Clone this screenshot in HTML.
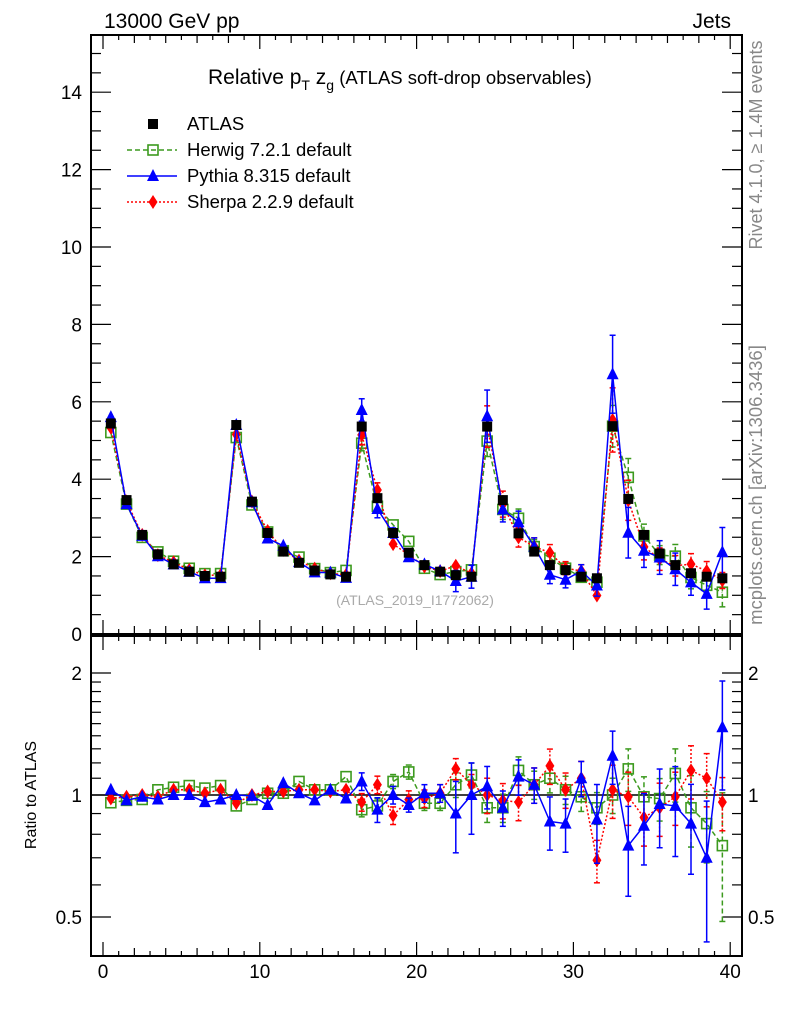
<!DOCTYPE html>
<html><head><meta charset="utf-8">
<style>
html,body{margin:0;padding:0;background:#fff;}
svg{display:block;font-family:"Liberation Sans",sans-serif;}
</style></head>
<body>
<svg id="chart" width="786" height="1024" viewBox="0 0 786 1024" xmlns="http://www.w3.org/2000/svg">
<text x="104" y="28" font-size="21">13000 GeV pp</text>
<text x="731" y="28" font-size="21" text-anchor="end">Jets</text>
<text x="208" y="84" font-size="21">Relative p<tspan font-size="14" dy="6">T</tspan><tspan dy="-6"> z</tspan><tspan font-size="14" dy="6">g</tspan><tspan font-size="18.5" dy="-6"> (ATLAS soft-drop observables)</tspan></text>
<text transform="translate(762,145) rotate(-90)" font-size="18" fill="#888" text-anchor="middle">Rivet 4.1.0, ≥ 1.4M events</text>
<text transform="translate(762,485) rotate(-90)" font-size="18.5" fill="#888" text-anchor="middle">mcplots.cern.ch [arXiv:1306.3436]</text>
<text x="415" y="605" font-size="14" fill="#aaa" text-anchor="middle">(ATLAS_2019_I1772062)</text>
<text transform="translate(36,795) rotate(-90)" font-size="16" text-anchor="middle">Ratio to ATLAS</text>
<g id="legend"></g>
<g id="main"></g>
<g id="ratio"></g>
</svg>
<script>
const atlas = [5.44,3.46,2.56,2.06,1.80,1.61,1.50,1.48, 5.40,3.42,2.61,2.13,1.84,1.64,1.54,1.48, 5.36,3.51,2.61,2.10,1.78,1.61,1.52,1.48, 5.36,3.46,2.60,2.13,1.78,1.65,1.48,1.44, 5.37,3.49,2.56,2.08,1.78,1.57,1.48,1.44];
const herwigRatio = [0.957,0.97,0.975,1.03,1.045,1.055,1.04,1.055, 0.94,0.975,1.01,1.01,1.08,1.03,1.03,1.11, 0.92,0.94,1.08,1.14,0.954,0.954,1.06,1.12, 0.93,0.93,1.15,1.06,1.10,1.03,0.99,0.93, 1.0,1.16,0.99,0.98,1.13,0.93,0.85,0.75];
const pythiaRatio = [1.03,0.97,0.99,0.975,1.0,1.0,0.96,0.975, 1.0,0.995,0.945,1.07,1.01,0.97,1.03,0.98, 1.08,0.92,1.0,0.945,1.01,1.01,0.90,1.0, 1.05,0.93,1.11,1.06,0.86,0.85,1.10,0.87, 1.25,0.75,0.84,0.95,0.94,0.85,0.70,1.47];
const sherpaRatio = [0.98,0.99,1.0,0.99,1.03,1.03,1.01,1.03, 0.955,1.0,1.02,1.02,1.03,1.03,1.02,1.03, 0.96,1.06,0.89,0.975,0.98,1.01,1.16,1.06, 1.0,0.97,0.96,1.06,1.18,1.03,1.10,0.69, 1.03,0.99,0.88,0.93,0.99,1.15,1.10,0.96];
const herwigErr = [0.01,0.01,0.01,0.01,0.01,0.01,0.01,0.01, 0.01,0.01,0.01,0.01,0.01,0.01,0.01,0.01, 0.04,0.04,0.04,0.04,0.04,0.04,0.07,0.07, 0.08,0.08,0.08,0.08,0.08,0.08,0.08,0.09, 0.10,0.12,0.12,0.12,0.15,0.2,0.2,0.35];
const pythiaErr = [0.01,0.01,0.01,0.01,0.015,0.015,0.015,0.015, 0.015,0.015,0.015,0.02,0.02,0.02,0.02,0.02, 0.05,0.07,0.05,0.04,0.05,0.05,0.2,0.2, 0.12,0.1,0.1,0.1,0.15,0.15,0.1,0.22, 0.15,0.25,0.2,0.22,0.25,0.25,0.38,0.3];
const sherpaErr = [0.02,0.02,0.02,0.02,0.02,0.02,0.02,0.02, 0.02,0.02,0.02,0.02,0.02,0.02,0.02,0.02, 0.05,0.05,0.05,0.05,0.05,0.05,0.06,0.06, 0.1,0.1,0.1,0.1,0.1,0.1,0.1,0.12, 0.15,0.15,0.15,0.15,0.15,0.15,0.15,0.15];
const mainTicks = [0,2,4,6,8,10,12,14];
const ratioTicks = [0.5,1,2];
const xTicks = [0,10,20,30,40];

const NS = "http://www.w3.org/2000/svg";
const L = 91, R = 742, MT = 35, MB = 634, RT = 636, RB = 956;
const X = v => 103 + v * 15.68;
const Y = v => MB - v * 38.7;
const YR = r => 795 - 122 * Math.log2(r);
function mk(parent, tag, attrs) {
  const e = document.createElementNS(NS, tag);
  for (const k in attrs) e.setAttribute(k, attrs[k]);
  parent.appendChild(e); return e;
}
const main = document.getElementById('main');
const ratio = document.getElementById('ratio');
const legend = document.getElementById('legend');

function frame(g, top, bot, name) {
  const f = mk(g, 'rect', {x: L, y: top, width: R - L, height: bot - top, fill: 'none', stroke: '#000', 'stroke-width': 2});
  
  
  for (let i = 0; i <= 40; i++) {
    const len = i % 10 === 0 ? 14 : (i % 2 === 0 ? 8 : 5);
    mk(g, 'line', {x1: X(i), x2: X(i), y1: bot, y2: bot - len, stroke: '#000', 'stroke-width': 1.2});
    mk(g, 'line', {x1: X(i), x2: X(i), y1: top, y2: top + len, stroke: '#000', 'stroke-width': 1.2});
  }
}
frame(main, MT, MB, 'main-frame');
frame(ratio, RT, RB, 'ratio-frame');

for (let v = 0; v <= 15.5; v += 0.5) {
  const y = Y(v); if (y < MT) break;
  const len = (v % 2 === 0) ? 20 : 10;
  mk(main, 'line', {x1: L, x2: L + len, y1: y, y2: y, stroke: '#000', 'stroke-width': 1.2});
  mk(main, 'line', {x1: R, x2: R - len, y1: y, y2: y, stroke: '#000', 'stroke-width': 1.2});
}
mainTicks.forEach(v => {
  const t = mk(main, 'text', {x: 82, y: Y(v) + 7, 'font-size': 19, 'text-anchor': 'end'});
  t.textContent = v;
  
  
});
const minor = [0.4,0.5,0.6,0.7,0.8,0.9,1,1.1,1.2,1.3,1.4,1.5,1.6,1.7,1.8,1.9,2];
minor.forEach(r => {
  const y = YR(r); if (y > RB || y < RT) return;
  const len = ratioTicks.includes(r) ? 20 : 10;
  mk(ratio, 'line', {x1: L, x2: L + len, y1: y, y2: y, stroke: '#000', 'stroke-width': 1.2});
  mk(ratio, 'line', {x1: R, x2: R - len, y1: y, y2: y, stroke: '#000', 'stroke-width': 1.2});
});
ratioTicks.forEach(r => {
  const t1 = mk(ratio, 'text', {x: 82, y: YR(r) + 7, 'font-size': 19, 'text-anchor': 'end'});
  t1.textContent = r;
  
  
  const t2 = mk(ratio, 'text', {x: 748, y: YR(r) + 7, 'font-size': 19});
  t2.textContent = r;
  
  
});
xTicks.forEach(v => {
  const t = mk(ratio, 'text', {x: X(v), y: 978, 'font-size': 19, 'text-anchor': 'middle'});
  t.textContent = v;
  
  
});
mk(ratio, 'line', {x1: L, x2: R, y1: YR(1), y2: YR(1), stroke: '#000', 'stroke-width': 1.5});

function marker(g, type, x, y, color) {
  let e;
  if (type === 'sq') e = mk(g, 'rect', {x: x - 5, y: y - 5, width: 10, height: 10, fill: '#000'});
  else if (type === 'osq') e = mk(g, 'rect', {x: x - 5, y: y - 5, width: 10, height: 10, fill: 'none', stroke: color, 'stroke-width': 1.6});
  else if (type === 'tri') e = mk(g, 'polygon', {points: `${x},${y-7} ${x-6},${y+5} ${x+6},${y+5}`, fill: color});
  else e = mk(g, 'polygon', {points: `${x},${y-7} ${x-4.5},${y} ${x},${y+7} ${x+4.5},${y}`, fill: color});
  return e;
}
const series = [
  {name: 'herwig', r: herwigRatio, err: herwigErr, color: '#3c9a1e', dash: '5,3', m: 'osq'},
  {name: 'sherpa', r: sherpaRatio, err: sherpaErr, color: '#ff0000', dash: '2,2', m: 'dia'},
  {name: 'pythia', r: pythiaRatio, err: pythiaErr, color: '#0000ff', dash: '', m: 'tri'}
];
function clipY(y, top, bot) { return Math.max(top, Math.min(bot, y)); }
series.forEach(s => {
  ['main', 'ratio'].forEach(panel => {
    const g = panel === 'main' ? main : ratio;
    const top = panel === 'main' ? MT : RT, bot = panel === 'main' ? MB : RB;
    const val = i => panel === 'main' ? Y(atlas[i] * s.r[i]) : YR(s.r[i]);
    const lo = i => panel === 'main' ? Y(atlas[i] * s.r[i] * (1 - s.err[i])) : YR(s.r[i] * (1 - s.err[i]));
    const hi = i => panel === 'main' ? Y(atlas[i] * s.r[i] * (1 + s.err[i])) : YR(s.r[i] * (1 + s.err[i]));
    let d = '';
    s.r.forEach((_, i) => { d += (i ? 'L' : 'M') + X(i + 0.5).toFixed(1) + ',' + val(i).toFixed(1); });
    const p = mk(g, 'path', {d, fill: 'none', stroke: s.color, 'stroke-width': 1.5, 'stroke-dasharray': s.dash});
    
    
    s.r.forEach((_, i) => {
      const x = X(i + 0.5);
      const y1 = clipY(lo(i), top, bot), y2 = clipY(hi(i), top, bot);
      if (y1 - y2 > 10) {
        mk(g, 'line', {x1: x, x2: x, y1, y2, stroke: s.color, 'stroke-width': 1.5, 'stroke-dasharray': s.dash});
        mk(g, 'line', {x1: x - 3, x2: x + 3, y1: y1, y2: y1, stroke: s.color, 'stroke-width': 1.5});
        mk(g, 'line', {x1: x - 3, x2: x + 3, y1: y2, y2: y2, stroke: s.color, 'stroke-width': 1.5});
      }
      const m = marker(g, s.m, x, val(i), s.color);
      
      
    });
  });
});
atlas.forEach((v, i) => {
  const m = marker(main, 'sq', X(i + 0.5), Y(v), '#000');
  
  
});
main.appendChild(main.querySelector('rect'));

const leg = [
  {label: 'ATLAS', m: 'sq', color: '#000', dash: null, y: 124},
  {label: 'Herwig 7.2.1 default', m: 'osq', color: '#3c9a1e', dash: '5,3', y: 150},
  {label: 'Pythia 8.315 default', m: 'tri', color: '#0000ff', dash: '', y: 176},
  {label: 'Sherpa 2.2.9 default', m: 'dia', color: '#ff0000', dash: '2,2', y: 202}
];
leg.forEach(e => {
  const g = mk(legend, 'g', {});
  
  
  if (e.dash !== null) mk(g, 'line', {x1: 127, x2: 177, y1: e.y, y2: e.y, stroke: e.color, 'stroke-width': 1.5, 'stroke-dasharray': e.dash});
  marker(g, e.m, 153, e.y, e.color);
  const t = mk(g, 'text', {x: 187, y: e.y + 6, 'font-size': 18.5});
  t.textContent = e.label;
});
</script>
</body></html>
